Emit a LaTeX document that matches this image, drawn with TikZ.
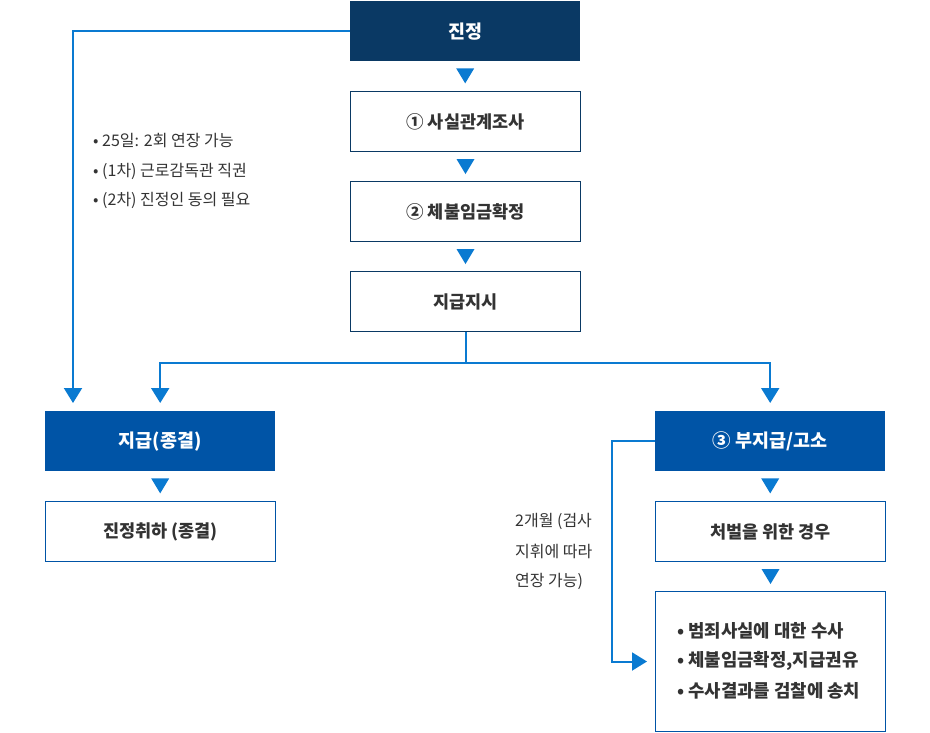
\documentclass[tikz,border=0pt]{standalone}
\usepackage{fontspec}
\setmainfont{Noto Sans CJK KR}
\usetikzlibrary{arrows.meta,calc}
\definecolor{navy}{HTML}{0A3964}
\definecolor{blueone}{HTML}{0054A6}
\definecolor{arr}{HTML}{0A7AD1}
\definecolor{txt}{HTML}{333333}
\newcommand\downtri[1]{\fill[arr] ($(#1.south)+(-9,7)$) -- ($(#1.south)+(9,7)$) -- ($(#1.south)+(0,22)$) -- cycle;}
\begin{document}
\begin{tikzpicture}[x=1pt,y=-1pt,
  box/.style={minimum width=230pt,minimum height=60pt,inner sep=0pt,anchor=north west,font=\bfseries\fontsize{17.5}{20}\selectfont},
  darkbox/.style={box,fill=navy,text=white,font=\bfseries\fontsize{18.5}{20}\selectfont},
  bluebox/.style={box,fill=blueone,text=white,font=\bfseries\fontsize{18.5}{20}\selectfont},
  wbox/.style={box,draw=navy,line width=1pt,text=txt,fill=white},
  wbbox/.style={box,draw=blueone,line width=1pt,text=txt,fill=white},
  conn/.style={draw=arr,line width=2pt,-{Triangle[width=18pt,length=15pt]},shorten >=8pt},
  plain/.style={draw=arr,line width=2pt},
  note/.style={anchor=west,inner sep=0pt,text=txt,font=\fontsize{16}{18}\selectfont},
  bnote/.style={anchor=west,inner sep=0pt,text=txt,font=\bfseries\fontsize{17.8}{20}\selectfont}
  ]
\useasboundingbox (0,0) rectangle (930,732);
\node[darkbox] (jj) at (350,1) {진정};
\node[wbox] (s1) at (350,91) {① 사실관계조사};
\node[wbox] (s2) at (350,181) {② 체불임금확정};
\node[wbox] (order) at (350,271) {지급지시};
\node[bluebox] (pay) at (45,411) {지급(종결)};
\node[wbbox] (cancel) at (45,501) {진정취하 (종결)};
\node[bluebox] (nopay) at (655,411) {③ 부지급/고소};
\node[wbbox] (punish) at (655,501) {처벌을 위한 경우};
\node[wbbox, minimum height=140pt] (last) at (655,591) {};

\downtri{jj}
\downtri{s1}
\downtri{s2}
\downtri{pay}
\downtri{nopay}
\downtri{punish}

\draw[conn] (jj.west) -| ($(pay.north west)+(28,0)$);
\draw[plain] (order.south) -- ++(0,31) coordinate (split);
\draw[conn] (split) -| (pay.north);
\draw[conn] (split) -| (nopay.north);
\draw[conn] (nopay.west) -- ++(-43,0) |- (last.west);

\node[note] (n1) at (93,141) {• 25일: 2회 연장 가능};
\node[note] (n2) at (93,171) {• (1차) 근로감독관 직권};
\node[note] (n3) at (93,200) {• (2차) 진정인 동의 필요};

\node[note] (m1) at (515,521) {2개월 (검사};
\node[note] (m2) at (515,551) {지휘에 따라};
\node[note] (m3) at (515,581) {연장 가능)};

\node[bnote] (b1) at (677,631) {• 범죄사실에 대한 수사};
\node[bnote] (b2) at (677,661) {• 체불임금확정,지급권유};
\node[bnote] (b3) at (677,691) {• 수사결과를 검찰에 송치};
\end{tikzpicture}
\end{document}
